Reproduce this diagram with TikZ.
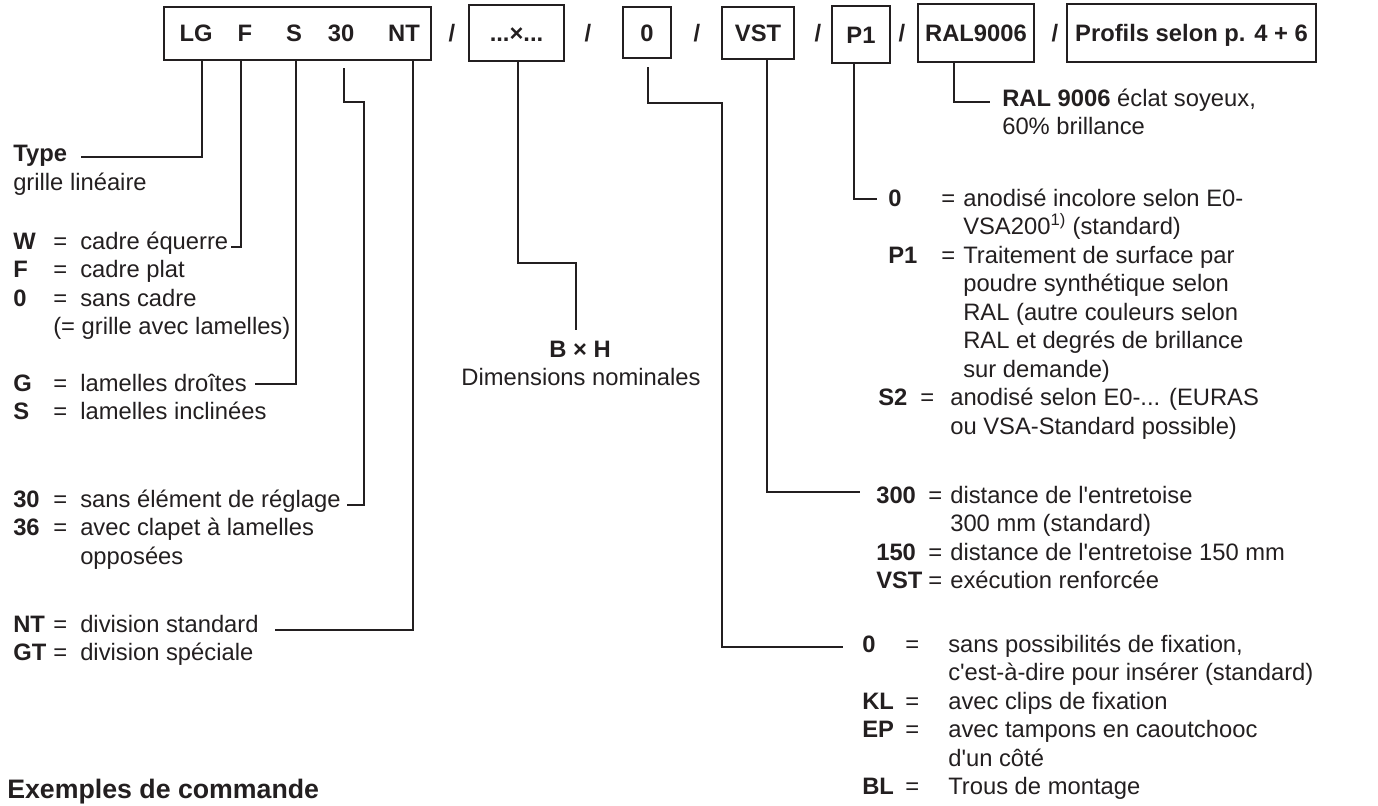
\documentclass[tikz,border=0pt]{standalone}
\usepackage{fontspec}
\setmainfont{Liberation Sans}
\usetikzlibrary{positioning}
\definecolor{ink}{HTML}{231F20}
\newcommand{\rowgap}{28.5}
\tikzset{
  lbl/.style={inner sep=0pt, anchor=base west, text=ink,
    font=\fontsize{16.9}{20.3}\selectfont},
  key/.style={lbl, font=\fontsize{16.9}{20.3}\selectfont\bfseries},
  code/.style={inner sep=0pt, anchor=base, text=ink,
    font=\fontsize{16.9}{20.3}\selectfont\bfseries},
  codebox/.style={draw=ink, line width=0.9pt, inner sep=0pt, text=ink,
    text height=12.1pt, text depth=0pt,
    font=\fontsize{16.9}{20.3}\selectfont\bfseries},
  lead/.style={draw=ink, line width=0.9pt},
}
\begin{document}
\begin{tikzpicture}[x=0.025cm, y=-0.025cm]
	\useasboundingbox (0,0) rectangle (1378,805);
	
	% code boxes
	\node[codebox, minimum width=6.675cm, minimum height=1.325cm] (bcode) at (297.5,33.5) {};
	\node[code] (lg) at (196,41) {LG};
	\node[code] (f) at (245,41) {F};
	\node[code] (s) at (294,41) {S};
	\node[code] (n30) at (341,41) {30};
	\node[code] (nt) at (404,41) {NT};
	\node[codebox, minimum width=2.375cm, minimum height=1.4cm] (bdim) at (516.5,33) {...×...};
	\node[codebox, minimum width=1.2cm, minimum height=1.275cm] (bfix) at (647,32.5) {0};
	\node[codebox, minimum width=1.8cm, minimum height=1.3cm] (bvst) at (758,33) {VST};
	\node[codebox, minimum width=1.45cm, minimum height=1.425cm] (bp1) at (861,34.5) {P1};
	\node[codebox, minimum width=2.9cm, minimum height=1.45cm] (bral) at (976,33) {RAL9006};
	\node[codebox, minimum width=6.225cm, minimum height=1.45cm] (bprof) at (1191.5,33) {Profils selon p. 4 + 6};
	\foreach \x [count=\i] in {452, 588, 697, 818, 902, 1055}
		\node[code] (sl\i) at (\x,41) {/};
	
	% left column
	\node[key] (type) at (13,161) {Type};
	\node[lbl] (typedesc) at (13,190) {grille linéaire};
	\foreach \k/\t [count=\i from 0] in {W/{cadre équerre}, F/{cadre plat}, 0/{sans cadre}}
	{
		\node[key] (kfr\i) at (13,249+\i*\rowgap) {\k};
		\node[lbl] (qfr\i) at (53,249+\i*\rowgap) {=};
		\node[lbl] (tfr\i) at (80,249+\i*\rowgap) {\t};
	}
	\node[lbl] (tfr3) at (53,249+3*\rowgap) {(= grille avec lamelles)};
	\foreach \k/\t [count=\i from 0] in {G/{lamelles droîtes}, S/{lamelles inclinées}}
	{
		\node[key] (kbl\i) at (13,391+\i*\rowgap) {\k};
		\node[lbl] (qbl\i) at (53,391+\i*\rowgap) {=};
		\node[lbl] (tbl\i) at (80,391+\i*\rowgap) {\t};
	}
	\foreach \k/\t [count=\i from 0] in {30/{sans élément de réglage}, 36/{avec clapet à lamelles}}
	{
		\node[key] (krg\i) at (13,507+\i*\rowgap) {\k};
		\node[lbl] (qrg\i) at (53,507+\i*\rowgap) {=};
		\node[lbl] (trg\i) at (80,507+\i*\rowgap) {\t};
	}
	\node[lbl] (trg2) at (80,507+2*\rowgap) {opposées};
	\foreach \k/\t [count=\i from 0] in {NT/{division standard}, GT/{division spéciale}}
	{
		\node[key] (kdv\i) at (13,632+\i*\rowgap) {\k};
		\node[lbl] (qdv\i) at (53,632+\i*\rowgap) {=};
		\node[lbl] (tdv\i) at (80,632+\i*\rowgap) {\t};
	}
	
	% dimensions
	\node[code] (bh) at (580,357) {B × H};
	\node[lbl, anchor=base] (bhdesc) at (581,385) {Dimensions nominales};
	
	% right column
	\node[key] (ral0) at (1002,106) {RAL 9006 \mdseries éclat soyeux,};
	\node[lbl] (ral1) at (1002,106+\rowgap) {60\% brillance};
	
	\node[key] (ksf0) at (888,206) {0};
	\node[lbl] (qsf0) at (941,206) {=};
	\node[key] (ksf2) at (888,206+2*\rowgap) {P1};
	\node[lbl] (qsf2) at (941,206+2*\rowgap) {=};
	\foreach \t [count=\i from 0] in {{anodisé incolore selon E0-}, {VSA200\textsuperscript{1)} (standard)},
		{Traitement de surface par}, {poudre synthétique selon}, {RAL (autre couleurs selon},
		{RAL et degrés de brillance}, {sur demande)}}
		\node[lbl] (tsf\i) at (963,206+\i*\rowgap) {\t};
	\node[key] (ks2) at (878,206+7*\rowgap) {S2};
	\node[lbl] (qs2) at (920,206+7*\rowgap) {=};
	\node[lbl] (ts20) at (950,206+7*\rowgap) {anodisé selon E0-... (EURAS};
	\node[lbl] (ts21) at (950,206+8*\rowgap) {ou VSA-Standard possible)};
	
	\foreach \k/\j in {300/0, 150/2, VST/3}
	{
		\node[key] (kvs\j) at (876,503+\j*\rowgap) {\k};
		\node[lbl] (qvs\j) at (928,503+\j*\rowgap) {=};
	}
	\foreach \t [count=\i from 0] in {{distance de l\textquotesingle entretoise}, {300 mm (standard)},
		{distance de l\textquotesingle entretoise 150 mm}, {exécution renforcée}}
		\node[lbl] (tvs\i) at (950,503+\i*\rowgap) {\t};
	
	\foreach \k/\j in {0/0, KL/2, EP/3, BL/5}
	{
		\node[key] (kfx\j) at (862,652+\j*\rowgap) {\k};
		\node[lbl] (qfx\j) at (905,652+\j*\rowgap) {=};
	}
	\foreach \t [count=\i from 0] in {{sans possibilités de fixation,}, {c\textquotesingle est-à-dire pour insérer (standard)},
		{avec clips de fixation}, {avec tampons en caoutchooc}, {d\textquotesingle un côté}, {Trous de montage}}
		\node[lbl] (tfx\i) at (948,652+\i*\rowgap) {\t};
	
	\node[key, font=\fontsize{19}{23}\selectfont\bfseries] (order) at (7,798) {Exemples de commande};
	
	% leader lines
	\coordinate (kLG) at (202,157);  \coordinate (eLG) at (81,157);
	\coordinate (kF) at (241,247);   \coordinate (eF) at (231,247);
	\coordinate (kS) at (296,384);   \coordinate (eS) at (255,384);
	\coordinate (s30) at (344,68);   \coordinate (k30) at (364,102);  \coordinate (e30) at (347,505);
	\coordinate (kNT) at (413,630);  \coordinate (eNT) at (275,630);
	\coordinate (kD) at (518,263);   \coordinate (eD) at (576,330);
	\coordinate (sFix) at (648,67);  \coordinate (kFix) at (722,103); \coordinate (eFix) at (843,647);
	\coordinate (kVst) at (767,492); \coordinate (eVst) at (860,492);
	\coordinate (kP1) at (854,199);  \coordinate (eP1) at (877,199);
	\coordinate (kRal) at (954,102); \coordinate (eRal) at (990,102);
	
	\draw[lead] (bcode.south -| kLG) -- (kLG) -- (eLG);
	\draw[lead] (bcode.south -| kF) -- (kF) -- (eF);
	\draw[lead] (bcode.south -| kS) -- (kS) -- (eS);
	\draw[lead] (s30) |- (k30) |- (e30);
	\draw[lead] (bcode.south -| kNT) -- (kNT) -- (eNT);
	\draw[lead] (bdim.south -| kD) -- (kD) -| (eD);
	\draw[lead] (sFix) |- (kFix) |- (eFix);
	\draw[lead] (bvst.south -| kVst) -- (kVst) -- (eVst);
	\draw[lead] (bp1.south -| kP1) -- (kP1) -- (eP1);
	\draw[lead] (bral.south -| kRal) -- (kRal) -- (eRal);
\end{tikzpicture}
\end{document}
